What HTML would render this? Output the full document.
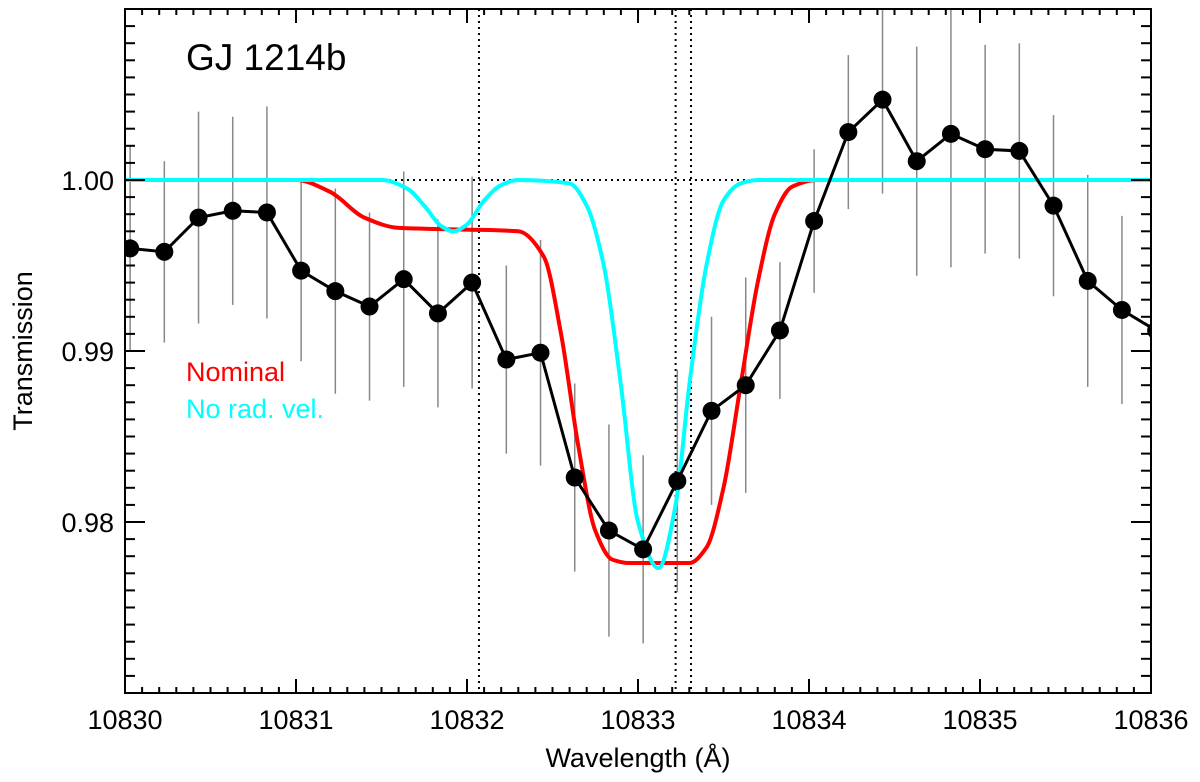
<!DOCTYPE html>
<html><head><meta charset="utf-8"><style>
body{margin:0;background:#fff;}
svg{display:block;font-family:"Liberation Sans",Arial,sans-serif;}
</style></head><body>
<svg id="c" width="1200" height="782"></svg>
<script>
const wavelengths=[10830.03,10830.23,10830.43,10830.63,10830.83,10831.03,10831.23,10831.43,10831.63,10831.83,10832.03,10832.23,10832.43,10832.63,10832.83,10833.03,10833.23,10833.43,10833.63,10833.83,10834.03,10834.23,10834.43,10834.63,10834.83,10835.03,10835.23,10835.43,10835.63,10835.83,10836.03];
const transmission=[0.9960,0.9958,0.9978,0.9982,0.9981,0.9947,0.9935,0.9926,0.9942,0.9922,0.9940,0.9895,0.9899,0.9826,0.9795,0.9784,0.9824,0.9865,0.9880,0.9912,0.9976,1.0028,1.0047,1.0011,1.0027,1.0018,1.0017,0.9985,0.9941,0.9924,0.9912];
const errors=[0.0060,0.0053,0.0062,0.0055,0.0062,0.0053,0.0060,0.0055,0.0063,0.0055,0.0062,0.0055,0.0066,0.0055,0.0062,0.0055,0.0065,0.0055,0.0063,0.0040,0.0042,0.0045,0.0055,0.0067,0.0078,0.0061,0.0063,0.0053,0.0062,0.0055,0.0060];
const nominalWl=[10830,10831,10831.2,10831.4,10831.6,10832.0,10832.3,10832.45,10832.55,10832.65,10832.75,10832.85,10832.95,10833.3,10833.4,10833.5,10833.6,10833.7,10833.8,10833.9,10834.05,10836];
const nominalT=[1,1,0.9993,0.9978,0.9972,0.9971,0.9970,0.9955,0.9910,0.9845,0.9795,0.9778,0.9776,0.9776,0.9785,0.9820,0.9880,0.9940,0.9980,0.9996,1.0,1];
const noRvWl=[10830,10831.5,10831.65,10831.75,10831.85,10831.92,10832.0,10832.1,10832.2,10832.3,10832.6,10832.7,10832.8,10832.9,10833.0,10833.12,10833.22,10833.3,10833.4,10833.5,10833.6,10833.7,10836];
const noRvT=[1,1,0.9995,0.9985,0.9973,0.9970,0.9974,0.9988,0.9997,1.0,0.9998,0.9985,0.9950,0.9880,0.9800,0.9773,0.9810,0.9880,0.9950,0.9988,0.9998,1.0,1];
const vlines=[10832.07,10833.22,10833.31];
const xTicks=[10830,10831,10832,10833,10834,10835,10836];
const yTicks=[0.98,0.99,1.00];
const yTickLabels=["0.98","0.99","1.00"];

const L=125,R=1151,T=9,B=693;
const X=v=>L+(v-10830)/6*(R-L);
const Y=v=>B-(v-0.97)/0.04*(B-T);
const NS="http://www.w3.org/2000/svg";
const svg=document.getElementById('c');
function mk(t,a,p){const e=document.createElementNS(NS,t);for(const k in a)e.setAttribute(k,a[k]);(p||svg).appendChild(e);return e;}
const defs=mk('defs',{});const cp=mk('clipPath',{id:'clip'},defs);mk('rect',{x:L,y:T,width:R-L,height:B-T},cp);
const g=mk('g',{'clip-path':'url(#clip)'});
function path(xs,ys){
  const px=xs.map(X),py=ys.map(Y),n=px.length;
  const d=[],m=new Array(n);
  for(let i=0;i<n-1;i++)d.push((py[i+1]-py[i])/(px[i+1]-px[i]));
  m[0]=d[0];m[n-1]=d[n-2];
  for(let i=1;i<n-1;i++){ if(d[i-1]*d[i]<=0)m[i]=0; else {const h0=px[i]-px[i-1],h1=px[i+1]-px[i];const w1=2*h1+h0,w2=h1+2*h0;m[i]=(w1+w2)/(w1/d[i-1]+w2/d[i]);} }
  let s=`M${px[0]},${py[0]}`;
  for(let i=0;i<n-1;i++){const h=(px[i+1]-px[i])/3;
    s+=`C${px[i]+h},${py[i]+m[i]*h} ${px[i+1]-h},${py[i+1]-m[i+1]*h} ${px[i+1]},${py[i+1]}`;}
  return s;}
let e=mk('line',{x1:L,x2:R,y1:Y(1),y2:Y(1),stroke:'#000','stroke-width':2,'stroke-dasharray':'2,4'},g);

vlines.forEach(v=>{const l=mk('line',{x1:X(v),x2:X(v),y1:T,y2:B,stroke:'#000','stroke-width':2,'stroke-dasharray':'2,4'},g);
});
wavelengths.forEach((w,i)=>{const l=mk('line',{x1:X(w),x2:X(w),y1:Y(transmission[i]+errors[i]),y2:Y(transmission[i]-errors[i]),stroke:'#888','stroke-width':1.5},g);
});
e=mk('path',{d:path(nominalWl,nominalT),fill:'none',stroke:'#f00','stroke-width':4},g);

e=mk('path',{d:path(noRvWl,noRvT),fill:'none',stroke:'#0ff','stroke-width':4},g);

e=mk('polyline',{points:wavelengths.map((w,i)=>X(w)+','+Y(transmission[i])).join(' '),fill:'none',stroke:'#000','stroke-width':3},g);

wavelengths.forEach((w,i)=>{const c=mk('circle',{cx:X(w),cy:Y(transmission[i]),r:9,fill:'#000'},g);
});
e=mk('rect',{x:L,y:T,width:R-L,height:B-T,fill:'none',stroke:'#000','stroke-width':2});

for(let k=0;k<=60;k++){const x=X(10830+k/10),len=k%10===0?14:6;
mk('line',{x1:x,x2:x,y1:B,y2:B-len,stroke:'#000','stroke-width':2});mk('line',{x1:x,x2:x,y1:T,y2:T+len,stroke:'#000','stroke-width':2});}
for(let k=0;k<=40;k++){const y=Y(0.97+k/1000),len=k%10===0?20:10;
mk('line',{x1:L,x2:L+len,y1:y,y2:y,stroke:'#000','stroke-width':2});mk('line',{x1:R,x2:R-len,y1:y,y2:y,stroke:'#000','stroke-width':2});}
xTicks.forEach(v=>{const t=mk('text',{x:X(v),y:729,'font-size':27,'text-anchor':'middle'});t.textContent=v;
});
yTicks.forEach((v,i)=>{const t=mk('text',{x:114,y:Y(v)+10,'font-size':27,'text-anchor':'end'});t.textContent=yTickLabels[i];
});
let t=mk('text',{x:638,y:767,'font-size':27,'text-anchor':'middle'});t.textContent='Wavelength (Å)';

t=mk('text',{x:32,y:351,'font-size':27,'text-anchor':'middle',transform:'rotate(-90 32 351)'});t.textContent='Transmission';

t=mk('text',{x:186,y:70,'font-size':37});t.textContent='GJ 1214b';

t=mk('text',{x:186,y:381,'font-size':27,fill:'#f00'});t.textContent='Nominal';

t=mk('text',{x:186,y:418,'font-size':27,fill:'#0ff'});t.textContent='No rad. vel.';

</script>
</body></html>
